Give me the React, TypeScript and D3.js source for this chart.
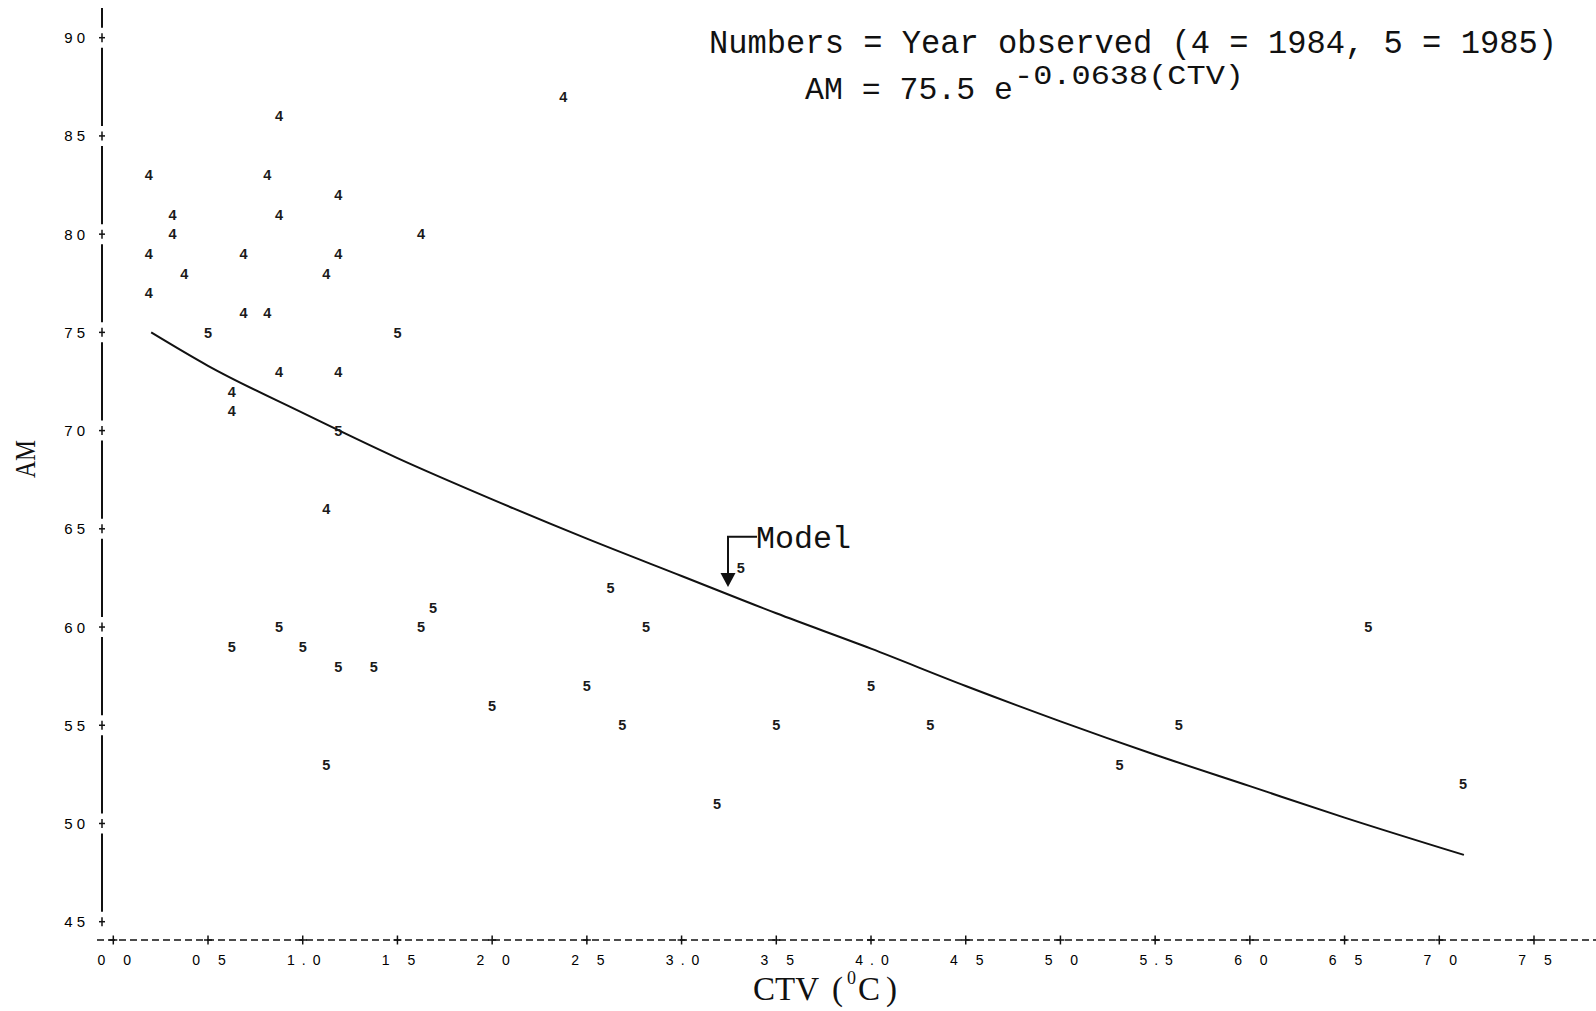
import React, { useEffect, useRef } from 'react';
import * as d3 from 'd3';

// 1984 observations ("4")
const ctv1984 = [0.1875, 0.1875, 0.1875, 0.3125, 0.3125, 0.375, 0.625, 0.625, 0.6875, 0.6875, 0.8125, 0.8125, 0.875, 0.875, 0.875, 1.125, 1.125, 1.1875, 1.1875, 1.1875, 1.625, 2.375];
const am1984 = [83, 79, 77, 81, 80, 78, 72, 71, 79, 76, 83, 76, 86, 81, 73, 78, 66, 82, 79, 73, 80, 87];

// 1985 observations ("5")
const ctv1985 = [0.5, 1.1875, 1.5, 0.625, 0.875, 1.0, 1.1875, 1.375, 1.125, 1.625, 1.6875, 2.0, 2.5, 2.625, 2.6875, 2.8125, 3.1875, 3.3125, 3.5, 4.0, 4.3125, 5.3125, 5.625, 6.625, 7.125];
const am1985 = [75, 70, 75, 59, 60, 59, 58, 58, 53, 60, 61, 56, 57, 62, 55, 60, 51, 63, 55, 57, 55, 53, 55, 60, 52];

// model curve as drawn
const modelCTV = [0.2, 0.5, 1.0, 1.5, 2.0, 2.5, 3.0, 3.5, 4.0, 4.5, 5.0, 5.5, 6.0, 6.5, 7.13];
const modelAM = [75.0, 73.3, 70.9, 68.6, 66.5, 64.5, 62.6, 60.7, 58.9, 57.0, 55.2, 53.5, 51.9, 50.3, 48.4];

const xTicks = [0, 0.5, 1, 1.5, 2, 2.5, 3, 3.5, 4, 4.5, 5, 5.5, 6, 6.5, 7, 7.5];
const xTickLabels = ['0 0', '0 5', '1.0', '1 5', '2 0', '2 5', '3.0', '3 5', '4.0', '4 5', '5 0', '5.5', '6 0', '6 5', '7 0', '7 5'];
const yTicks = [90, 85, 80, 75, 70, 65, 60, 55, 50, 45];

export default function App() {
  const ref = useRef<SVGSVGElement>(null);

  useEffect(() => {
    const svg = d3.select(ref.current);
    svg.selectAll('*').remove();

    const x = d3.scaleLinear().domain([0, 7.5]).range([113.3, 1534]);
    const y = d3.scaleLinear().domain([45, 90]).range([921.7, 37.7]);

    const mono = '"Liberation Mono", "DejaVu Sans Mono", monospace';
    const sans = '"Liberation Sans", Arial, sans-serif';
    const serif = '"Liberation Serif", "Times New Roman", serif';

    // y axis: broken line with + ticks
    const axX = 102;
    const tp = yTicks.map(v => y(v));
    const segs: [number, number][] = [[8, tp[0] - 10]];
    for (let i = 0; i < tp.length - 1; i++) segs.push([tp[i] + 10, tp[i + 1] - 10]);
    svg.selectAll('line.yseg').data(segs).enter().append('line')
      .attr('x1', axX).attr('x2', axX)
      .attr('y1', d => d[0]).attr('y2', d => d[1])
      .attr('stroke', '#111').attr('stroke-width', 2);

    const yt = svg.selectAll('g.ytick').data(yTicks).enter().append('g')
      .attr('transform', d => `translate(${axX},${y(d)})`);
    yt.append('line').attr('x1', 0).attr('x2', 0).attr('y1', -4.5).attr('y2', 4.5)
      .attr('stroke', '#111').attr('stroke-width', 1.5);
    yt.append('line').attr('x1', -3).attr('x2', 3).attr('y1', 0).attr('y2', 0)
      .attr('stroke', '#111').attr('stroke-width', 1.5);
    yt.append('text').attr('x', -13).attr('y', 5.5)
      .attr('text-anchor', 'end')
      .attr('font-family', sans).attr('font-size', 15).attr('letter-spacing', 4)
      .attr('fill', '#000')
      .text(d => d);

    // x axis: dashed line with + ticks
    const axY = 940;
    svg.append('line').attr('x1', 97).attr('x2', 1596).attr('y1', axY).attr('y2', axY)
      .attr('stroke', '#111').attr('stroke-width', 1.5).attr('stroke-dasharray', '7 4');
    const xt = svg.selectAll('g.xtick').data(xTicks).enter().append('g')
      .attr('transform', d => `translate(${x(d)},${axY})`);
    xt.append('line').attr('x1', 0).attr('x2', 0).attr('y1', -4.5).attr('y2', 4.5)
      .attr('stroke', '#111').attr('stroke-width', 1.5);
    xt.append('line').attr('x1', -4).attr('x2', 4).attr('y1', 0).attr('y2', 0)
      .attr('stroke', '#111').attr('stroke-width', 1.5);
    xt.append('text').attr('x', 4.5).attr('y', 25)
      .attr('text-anchor', 'middle')
      .attr('font-family', sans).attr('font-size', 14).attr('letter-spacing', 7)
      .attr('fill', '#000')
      .text((d, i) => xTickLabels[i]);

    // axis titles
    svg.append('text')
      .attr('transform', 'translate(35,459) rotate(-90)')
      .attr('text-anchor', 'middle')
      .attr('font-family', serif).attr('font-size', 30)
      .attr('textLength', 38).attr('lengthAdjust', 'spacingAndGlyphs')
      .attr('fill', '#111')
      .text('AM');
    const xt2 = svg.append('g').attr('font-family', serif).attr('fill', '#111').attr('font-size', 33);
    xt2.append('text').attr('x', 753).attr('y', 1000).text('CTV');
    xt2.append('text').attr('x', 832).attr('y', 1000).text('(');
    xt2.append('text').attr('x', 847).attr('y', 984).attr('font-size', 18).text('0');
    xt2.append('text').attr('x', 858).attr('y', 1000).text('C');
    xt2.append('text').attr('x', 886).attr('y', 1000).text(')');

    // model curve
    const pts = modelCTV.map((c, i) => [c, modelAM[i]] as [number, number]);
    const line = d3.line<[number, number]>()
      .x(d => x(d[0])).y(d => y(d[1]))
      .curve(d3.curveMonotoneX);
    svg.append('path').attr('d', line(pts))
      .attr('fill', 'none').attr('stroke', '#111').attr('stroke-width', 2);

    // year digits
    const drawYear = (ctv: number[], am: number[], label: string) => {
      svg.append('g').selectAll('text').data(ctv).enter().append('text')
        .attr('x', d => x(d))
        .attr('y', (d, i) => y(am[i]))
        .attr('dy', '0.36em')
        .attr('text-anchor', 'middle')
        .attr('font-family', sans).attr('font-size', 14.5).attr('font-weight', 'bold')
        .attr('fill', '#1a1a1a')
        .text(label);
    };
    drawYear(ctv1984, am1984, '4');
    drawYear(ctv1985, am1985, '5');

    // legend / equation
    const leg = svg.append('g').attr('font-family', mono).attr('fill', '#111');
    leg.append('text').attr('x', 709).attr('y', 53).attr('font-size', 34)
      .attr('textLength', 848).attr('lengthAdjust', 'spacingAndGlyphs')
      .text('Numbers = Year observed (4 = 1984, 5 = 1985)');
    leg.append('text').attr('x', 805).attr('y', 99).attr('font-size', 32)
      .attr('textLength', 208).attr('lengthAdjust', 'spacingAndGlyphs')
      .text('AM = 75.5 e');
    leg.append('text').attr('x', 1014).attr('y', 84).attr('font-size', 28)
      .attr('textLength', 230).attr('lengthAdjust', 'spacingAndGlyphs')
      .text('-0.0638(CTV)');

    // "Model" callout
    svg.append('path').attr('d', 'M757,536.7 H728 V574')
      .attr('fill', 'none').attr('stroke', '#111').attr('stroke-width', 2);
    svg.append('path').attr('d', 'M720.5,573 L735.5,573 L728,587 Z').attr('fill', '#111');
    svg.append('text').attr('x', 756).attr('y', 548).attr('font-family', mono).attr('font-size', 31)
      .attr('textLength', 95).attr('lengthAdjust', 'spacingAndGlyphs').attr('fill', '#111')
      .text('Model');
  }, []);

  return (
    <svg ref={ref} width={1596} height={1011}
      style={{ position: 'absolute', left: 0, top: 0, background: '#fff' }} />
  );
}
